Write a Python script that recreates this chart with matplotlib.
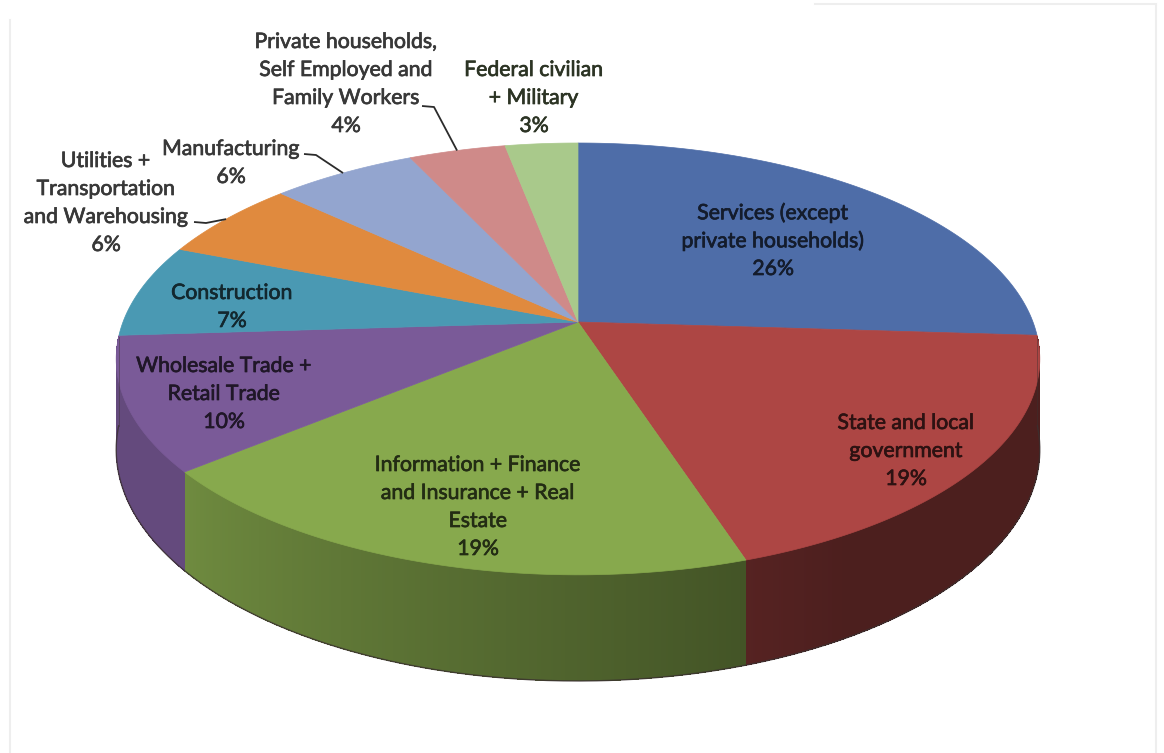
import numpy as np
import matplotlib.pyplot as plt
import matplotlib.patheffects as pe
from matplotlib.collections import PolyCollection
from matplotlib.patches import Polygon
from matplotlib.colors import to_rgb

# employment share by sector, clockwise from 12 o'clock
sectors = [
    ["Services (except", "private households)"],
    ["State and local", "government"],
    ["Information + Finance", "and Insurance + Real", "Estate"],
    ["Wholesale Trade +", "Retail Trade"],
    ["Construction"],
    ["Utilities +", "Transportation", "and Warehousing"],
    ["Manufacturing"],
    ["Private households,", "Self Employed and", "Family Workers"],
    ["Federal civilian", "+ Military"],
]
shares = [26, 19, 19, 10, 7, 6, 6, 4, 3]
colors = ["#4E6DA8", "#AD4644", "#87A94D", "#7A5A98", "#4A99B3",
          "#E08A3E", "#93A5CF", "#CF8A89", "#A9C98B"]

# label block centres (first line) and whether the label sits outside
label_pos = [(773, 213), (906, 423), (478, 465), (224, 366), (232, 293),
             (106, 161), (231, 149), (346, 42), (534, 70)]
outside = [False, False, False, False, False, True, True, True, False]
leader_start = {5: (194, 222), 6: (304, 154), 7: (422, 106)}

W, H = 1164, 753
cx, cy = 578, 322
rx, ry = 455, 209.6
persp = 0.171
depth = 88
line_step = 28
wall_from, wall_to = -4.0, -176.0   # visible part of the side wall

plt.rcParams['font.family'] = ['Lato', 'DejaVu Sans']


def rim(theta_deg, z=0.0):
    t = np.radians(theta_deg)
    v = -np.sin(t)
    s = 1.0 / (1.0 - persp * v)
    return cx + rx * np.cos(t) * s, cy + ry * v * s + z * depth * s


def shade(theta):
    # darker towards the right-hand side of the wall
    return 0.44 + 0.38 * np.clip((-theta - 60) / 80.0, 0, 1)


fig = plt.figure(figsize=(W / 100, H / 100), dpi=100)
ax = fig.add_axes([0, 0, 1, 1])
ax.set_xlim(0, W)
ax.set_ylim(H, 0)
ax.axis('off')

bounds = 90 - 3.6 * np.concatenate([[0], np.cumsum(shares)])

# side walls (front half only)
quads, qcols = [], []
for i, col in enumerate(colors):
    a0, a1 = bounds[i], bounds[i + 1]
    lo, hi = max(a1, wall_to), min(a0, wall_from)
    if lo >= hi:
        lo, hi = max(a1 + 360, wall_to), min(a0 + 360, wall_from)
        if lo >= hi:
            continue
    th = np.linspace(hi, lo, max(int((hi - lo) * 4), 2))
    base = np.array(to_rgb(col))
    for t0, t1 in zip(th[:-1], th[1:]):
        x0, y0 = rim(t0)
        x1, y1 = rim(t1)
        x2, y2 = rim(t1, 1)
        x3, y3 = rim(t0, 1)
        quads.append([(x0, y0), (x1, y1), (x2, y2), (x3, y3)])
        qcols.append(base * shade(0.5 * (t0 + t1)))
ax.add_collection(PolyCollection(quads, facecolors=qcols, edgecolors='none',
                                 antialiased=False))

# soft dark edge along the bottom of the wall
th = np.linspace(wall_from, wall_to, 400)
bx, by = rim(th, 1)
ax.plot(bx, by, color="#3a3030", lw=1.0, alpha=0.8)
for t in (wall_from, wall_to):
    x0, y0 = rim(t)
    x1, y1 = rim(t, 1)
    ax.plot([x0, x1], [y0, y1], color="#3a3030", lw=0.6, alpha=0.5)

# top faces
for i, col in enumerate(colors):
    th = np.linspace(bounds[i], bounds[i + 1], 120)
    xs, ys = rim(th)
    pts = np.column_stack([np.r_[cx, xs], np.r_[cy, ys]])
    ax.add_patch(Polygon(pts, closed=True, facecolor=col, edgecolor=col,
                         linewidth=0.5))

# labels
for i, lines in enumerate(sectors):
    x, y = label_pos[i]
    if outside[i]:
        tcol = "#383838"
    else:
        tcol = np.array(to_rgb(colors[i])) * 0.26
    rows = lines + [f"{shares[i]}%"]
    for j, txt in enumerate(rows):
        ax.text(x, y + j * line_step, txt, ha='center', va='center',
                fontsize=15.3, color=tcol,
                path_effects=[pe.withStroke(linewidth=0.5, foreground=tcol)])
    if i in leader_start:
        sx, sy = leader_start[i]
        mid = 0.5 * (bounds[i] + bounds[i + 1])
        ex, ey = rim(mid)
        ax.plot([sx, sx + 12, ex], [sy, sy + 1, ey], color="#2b2b2b",
                lw=1.3, solid_capstyle='butt')

# faint frame
ax.plot([10, 10], [20, H], color="#eeeeee", lw=1.5)
ax.plot([1156, 1156], [5, H], color="#eeeeee", lw=1.5)
ax.plot([815, 1156], [4, 4], color="#eeeeee", lw=1.5)

fig.savefig("out.png", dpi=100, facecolor="white")
